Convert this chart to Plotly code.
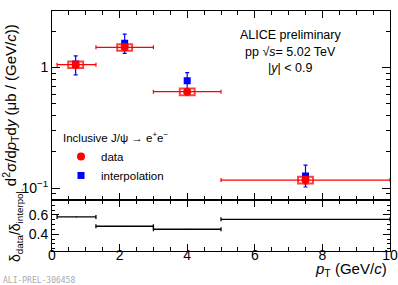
import plotly.graph_objects as go

# ---- data ----
bin_lo = [0.15, 1.3, 3.0, 5.0]
bin_hi = [1.3, 3.0, 5.0, 10.0]
pt_center = [0.7, 2.15, 4.0, 7.5]
data_y = [1.055, 1.47, 0.63, 0.1165]
data_stat = [0.06, 0.06, 0.03, 0.008]
data_syst = [0.065, 0.09, 0.04, 0.0075]
interp_y = [1.07, 1.59, 0.777, 0.126]
interp_err_up = [0.18, 0.30, 0.13, 0.029]
interp_err_dn = [0.20, 0.28, 0.127, 0.024]
ratio = [0.58, 0.483, 0.452, 0.555]
syst_halfwidth = 0.22

L, R, T, B = 52, 8, 11, 34
W, H = 398, 285
pw = W - L - R
ph = H - T - B

def px(xp):
    return (xp - L) / pw

def py(yp):
    return (H - B - yp) / ph

FONT = "Liberation Sans, Arial, sans-serif"
fig = go.Figure()

# systematic boxes (as shapes from data)
for c, y, s in zip(pt_center, data_y, data_syst):
    fig.add_shape(type="rect", xref="x", yref="y",
                  x0=c - syst_halfwidth, x1=c + syst_halfwidth,
                  y0=y - s, y1=y + s,
                  line=dict(color="rgba(255,0,0,0.75)", width=2),
                  fillcolor="rgba(0,0,0,0)")

xm = [c - lo for c, lo in zip(pt_center, bin_lo)]
xp = [hi - c for c, hi in zip(pt_center, bin_hi)]

fig.add_trace(go.Scatter(
    x=pt_center, y=interp_y, mode="markers", name="interpolation",
    marker=dict(symbol="square", color="#0000ff", size=7),
    error_y=dict(type="data", array=interp_err_up, arrayminus=interp_err_dn,
                 color="#0000ff", thickness=1.2, width=2),
    xaxis="x", yaxis="y"))

fig.add_trace(go.Scatter(
    x=pt_center, y=data_y, mode="markers", name="data",
    marker=dict(symbol="circle", color="#ff0000", size=8),
    error_x=dict(type="data", array=xp, arrayminus=xm, color="#ff0000",
                 thickness=1.2, width=2),
    error_y=dict(type="data", array=data_stat, color="#ff0000",
                 thickness=1.2, width=2),
    xaxis="x", yaxis="y"))

# ratio panel
rc = [(lo + hi) / 2 for lo, hi in zip(bin_lo, bin_hi)]
rh = [(hi - lo) / 2 for lo, hi in zip(bin_lo, bin_hi)]
fig.add_trace(go.Scatter(
    x=rc, y=ratio, mode="markers", showlegend=False,
    marker=dict(size=1, color="black"),
    error_x=dict(type="data", array=rh, color="black", thickness=1.3, width=2),
    xaxis="x2", yaxis="y2"))

split = (H - B - 199.5) / ph

axis_common = dict(showline=True, linecolor="black", linewidth=1, mirror="ticks",
                   ticks="inside", tickcolor="black", showgrid=False, zeroline=False,
                   automargin=False)

fig.update_layout(
    width=W, height=H,
    margin=dict(l=L, r=R, t=T, b=B, autoexpand=False),
    paper_bgcolor="white", plot_bgcolor="white",
    font=dict(family=FONT, size=14, color="black"),
    xaxis=dict(domain=[0, 1], anchor="y", range=[0, 10], matches="x2",
               showticklabels=False, dtick=2, ticklen=7,
               minor=dict(dtick=0.5, ticks="inside", ticklen=4, tickcolor="black"),
               **axis_common),
    yaxis=dict(domain=[split, 1], anchor="x", type="log",
               range=[-1.095, 0.469],
               tickvals=[0.1, 1], ticktext=["10<sup>\u22121</sup>", "1"],
               ticklen=8, tickfont=dict(size=14),
               minor=dict(tickvals=[0.09, 0.2, 0.3, 0.4, 0.5, 0.6, 0.7, 0.8, 0.9, 2, 3],
                          ticks="inside", ticklen=4, tickcolor="black"),
               title=dict(text="d<sup>2</sup>σ/d<i>p</i><sub>T</sub>d<i>y</i> (μb / (GeV/<i>c</i>))",
                          font=dict(size=15), standoff=6),
               **axis_common),
    xaxis2=dict(domain=[0, 1], anchor="y2", range=[0, 10], dtick=2, ticklen=7,
                tickfont=dict(size=14), ticklabelstandoff=-9,
                minor=dict(dtick=0.5, ticks="inside", ticklen=4, tickcolor="black"),
                **axis_common),
    yaxis2=dict(domain=[0, split], anchor="x2", range=[0.227, 0.76],
                tickvals=[0.4, 0.6], ticktext=["0.4", "0.6"], ticklen=7,
                tickfont=dict(size=14),
                minor=dict(dtick=0.05, ticks="inside", ticklen=3, tickcolor="black"),
                title=dict(text="δ<sub>data</sub>/δ<sub>interpol.</sub>",
                           font=dict(size=14), standoff=4),
                **axis_common),
    legend=dict(x=px(61), y=py(127), xanchor="left", yanchor="top",
                bgcolor="rgba(0,0,0,0)", font=dict(size=11.5),
                title=dict(text="Inclusive J/ψ → e<sup>+</sup>e<sup>−</sup>", font=dict(size=11.5)),
                traceorder="reversed", itemwidth=30, tracegroupgap=0),
)

ann = [
    ("ALICE preliminary", 290, 35),
    ("pp √<i>s</i>= 5.02 TeV", 290, 52),
    ("|<i>y</i>| < 0.9", 290, 68),
]
for t, x, y in ann:
    fig.add_annotation(text=t, xref="paper", yref="paper", x=px(x), y=py(y),
                       xanchor="center", yanchor="middle", showarrow=False,
                       font=dict(size=12.5, family=FONT))

fig.add_annotation(text="<i>p</i><sub>T</sub> (GeV/<i>c</i>)", xref="paper", yref="paper",
                   x=px(389), y=py(269), xanchor="right", yanchor="middle",
                   showarrow=False, font=dict(size=15, family=FONT))
fig.add_annotation(text="ALI-PREL-306458", xref="paper", yref="paper",
                   x=px(1), y=py(280), xanchor="left", yanchor="middle",
                   showarrow=False, font=dict(size=8, family="DejaVu Sans Mono", color="#aaaaaa"))

fig.write_html("out.html", config={"displayModeBar": False},
               post_script="document.body.style.margin='0';document.body.style.overflow='hidden';")
